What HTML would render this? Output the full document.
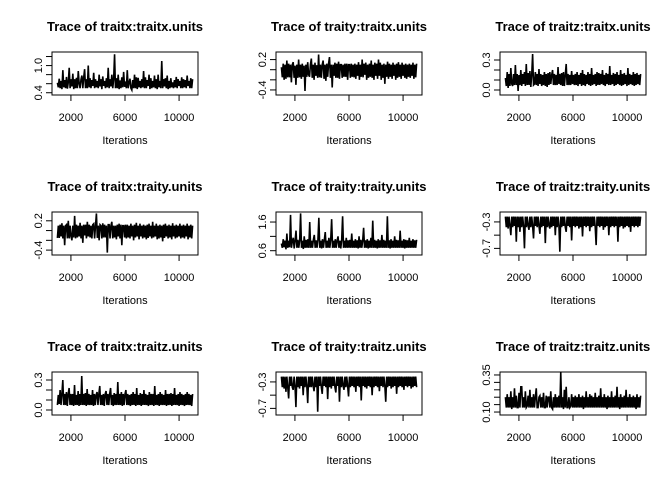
<!DOCTYPE html>
<html><head><meta charset="utf-8"><style>
html,body{margin:0;padding:0;background:#fff;}
svg{display:block;font-family:"Liberation Sans",Arial,sans-serif;}
</style></head><body>
<svg id="chart" width="672" height="480" viewBox="0 0 672 480" xmlns="http://www.w3.org/2000/svg"></svg>
<script>
const titles = ["Trace of traitx:traitx.units","Trace of traity:traitx.units","Trace of traitz:traitx.units",
"Trace of traitx:traity.units","Trace of traity:traity.units","Trace of traitz:traity.units",
"Trace of traitx:traitz.units","Trace of traity:traitz.units","Trace of traitz:traitz.units"];
const xTicks = [2000, 6000, 10000];
const iterStart = 1000, iterEnd = 11000;
const yDomains = [[0.35,1.30],[-0.5,0.35],[-0.05,0.38],[-0.5,0.38],[0.45,1.95],[-0.8,-0.15],[-0.05,0.38],[-0.8,-0.15],[0.08,0.37]];
const yTicks = [[0.4,0.6,0.8,1.0,1.2],[-0.4,-0.2,0,0.2],[0,0.1,0.2,0.3],[-0.4,-0.2,0,0.2],[0.6,1.1,1.6],[-0.7,-0.5,-0.3],[0,0.1,0.2,0.3],[-0.7,-0.5,-0.3],[0.1,0.15,0.2,0.25,0.3,0.35]];
const yLabels = [[["0.4",0.4],["1.0",1.0]],[["-0.4",-0.4],["0.2",0.2]],[["0.0",0],["0.3",0.3]],[["-0.4",-0.4],["0.2",0.2]],[["0.6",0.6],["1.6",1.6]],[["-0.7",-0.7],["-0.3",-0.3]],[["0.0",0],["0.3",0.3]],[["-0.7",-0.7],["-0.3",-0.3]],[["0.10",0.1],["0.35",0.35]]];
const s1 = [.62,.52,.71,.5,.66,.48,.9,.52,.68,.5,.75,.49,.63,.95,.5,.7,.54,.82,.48,.7,.5,.73,.5,.88,.6,.5,.69,.78,.5,.74,.92,.5,.7,.5,1.0,.52,.72,.5,.68,.55,.84,.5,.7,.52,.66,.5,.8,.54,.7,.48,.76,.55,.66,.5,.72,.52,.95,.5,.7,.54,.8,.5,.7,1.25,.5,.72,.5,.8,.48,.67,.5,.74,.52,.86,.53,.65,.5,.9,.5,.62,.71,.5,.46,.68,.5,.8,.5,.74,.48,.73,.52,.66,.5,.7,.52,.88,.5,.74,.5,.68,.55,.8,.48,.72,.5,.66,.52,.78,.5,.7,.48,.8,.52,.66,.5,1.1,.5,.7,.54,.72,.5,.78,.48,.66,.5,.72,.52,.63,.5,.68,.52,.75,.5,.7,.55,.66,.5,.74,.5,.7,.52,.68,.5,.78,.55,.66,.5,.72,.5,.7];
const s2 = [0.05,-.15,.12,-.2,.1,-.18,.18,-.15,.12,-.15,.1,-.25,.1,.15,-.16,.08,-.3,.1,-.16,.2,-.15,.1,-.18,.12,-.14,.08,-.42,.1,-.14,.15,-.1,-.14,.1,.22,-.16,.1,-.2,.14,-.12,.09,-.16,.3,-.15,.1,-.16,.1,.18,-.18,.1,-.22,.12,-.14,.12,.25,-.16,.1,-.35,.1,-.12,.14,-.16,.12,-.16,.16,-.18,.1,.1,-.16,.1,-.14,.12,-.14,.12,-.2,.1,.1,-.16,.12,-.14,.1,-.15,.12,-.18,.1,-.12,.15,-.2,.1,-.14,.2,-.15,.12,-.1,.14,-.2,.1,-.16,.12,-.14,.18,-.16,.1,-.2,.14,-.12,.12,-.18,.2,-.12,.14,-.2,.1,-.16,.12,-.28,.1,-.14,.16,-.18,.12,-.14,.1,-.18,.14,-.12,.1,-.2,.12,-.16,.15,-.14,.1,-.18,.14,-.12,.1,-.16,.12,-.18,.1,-.14,.12,-.16,.1,-.12,.14,-.18,.1,-.15,.12];
const s3 = [.12,.04,.18,.02,.16,.04,.22,.06,.04,.16,.05,.25,.05,.16,-.01,.15,.05,.2,.04,.16,.06,.18,.04,.26,.05,.17,.05,.19,.03,.15,.36,.05,.06,.18,.05,.16,.04,.21,.06,.16,.04,.15,.05,.18,.04,.16,.03,.17,.05,.18,.06,.15,.2,.05,.16,.05,.15,.05,.23,.06,.16,.05,.17,.04,.18,.04,.15,.26,.05,.16,.05,.15,.05,.19,.06,.15,.05,.16,.05,.18,.04,.15,.06,.17,.04,.2,.05,.16,.04,.15,.06,.18,.05,.16,.04,.22,.05,.15,.06,.16,.04,.18,.05,.17,.05,.16,.06,.2,.05,.15,.04,.17,.06,.16,.05,.24,.05,.15,.06,.17,.04,.16,.05,.18,.06,.15,.05,.2,.04,.16,.05,.17,.06,.15,.04,.22,.05,.16,.06,.15,.05,.18,.04,.16,.05,.17,.06,.15,.05,.16];
const s4 = [-.15,.1,-.15,.12,-.12,.15,-.16,.1,-.3,.1,.12,-.16,.2,-.16,.1,-.12,-.2,.1,-.14,.3,-.16,.12,-.14,.1,-.12,.16,-.16,.1,-.25,.12,-.1,.12,-.16,.18,-.12,.12,-.14,.1,-.16,.12,.14,-.16,.1,.35,-.15,.1,-.2,.12,.1,-.16,.15,-.14,.12,-.14,.1,-.45,.12,.12,-.16,.1,.18,-.16,.1,-.14,.1,-.18,.12,-.12,.14,-.16,.12,-.3,.1,.1,-.14,.12,-.16,.12,-.14,.1,-.16,.14,-.12,.1,-.2,.12,-.14,.16,-.12,.1,-.18,.14,-.12,.1,-.16,.12,-.14,.1,-.18,.12,-.15,.14,-.12,.1,-.16,.18,-.14,.1,-.12,.14,-.18,.1,-.16,.12,-.14,.1,-.22,.12,-.15,.14,-.12,.1,-.16,.12,-.14,.1,-.18,.15,-.12,.1,-.16,.12,-.14,.1,-.12,.14,-.16,.1,-.14,.12,-.16,.1,-.12,.14,-.18,.1,-.14,.12,-.16,.1];
const s5 = [.85,.7,1.0,.72,.95,.65,1.2,.7,.95,.72,1.85,.7,.95,1.05,.68,.95,1.3,.7,.98,.7,.95,1.9,.7,.95,.66,1.1,.7,.98,.7,1.0,.7,1.6,.7,.95,.7,.98,1.15,.7,.96,.7,.98,1.75,.7,.95,.68,1.0,.7,.98,1.25,.7,.95,.7,1.05,.7,.98,1.7,.7,.95,.7,1.0,.7,.96,1.1,.7,.95,.68,.98,1.8,.7,.95,.7,1.05,.7,.96,.7,.98,.7,1.2,.7,.95,.7,1.0,.7,.96,.68,1.1,.7,.98,.7,.95,1.4,.7,.96,.7,1.0,.68,.95,.7,1.05,.7,1.65,.7,.98,.7,.95,.68,1.0,.7,.96,.7,1.15,.7,.98,.7,.95,.7,1.8,.7,.96,.68,1.0,.7,.95,.7,1.1,.7,.98,.7,.96,.7,1.3,.7,.95,.7,1.0,.68,.98,.7,.96,.7,1.05,.7,.95,.7,1.0,.7,.96,.7,.98];
const s6 = [-.22,-.38,-.22,-.4,-.22,-.36,-.5,-.22,-.38,-.22,-.36,-.22,-.6,-.22,-.38,-.22,-.45,-.22,-.38,-.22,-.36,-.7,-.22,-.38,-.22,-.36,-.42,-.22,-.38,-.22,-.36,-.55,-.22,-.36,-.22,-.38,-.22,-.36,-.48,-.22,-.38,-.22,-.36,-.22,-.62,-.22,-.38,-.22,-.36,-.4,-.22,-.38,-.22,-.36,-.22,-.5,-.22,-.38,-.22,-.36,-.75,-.22,-.38,-.22,-.36,-.22,-.38,-.45,-.22,-.36,-.22,-.38,-.22,-.58,-.22,-.36,-.22,-.38,-.22,-.36,-.22,-.4,-.22,-.38,-.22,-.52,-.22,-.36,-.22,-.38,-.22,-.36,-.22,-.44,-.22,-.38,-.22,-.36,-.22,-.38,-.65,-.22,-.36,-.22,-.38,-.22,-.36,-.22,-.42,-.22,-.38,-.22,-.36,-.22,-.5,-.22,-.38,-.22,-.36,-.22,-.38,-.22,-.36,-.22,-.6,-.22,-.38,-.22,-.36,-.22,-.4,-.22,-.38,-.22,-.36,-.22,-.38,-.22,-.45,-.22,-.36,-.22,-.38,-.22,-.36,-.22,-.38,-.22,-.36,-.22];
const s7 = [.05,.15,.06,.2,.05,.16,.3,.05,.16,.05,.18,.04,.16,.22,.05,.16,.05,.16,.04,.25,.05,.15,.05,.19,.04,.16,.05,.34,.05,.16,.05,.17,.04,.21,.05,.16,.05,.15,.05,.2,.04,.16,.05,.15,.18,.05,.16,.24,.05,.15,.05,.16,.04,.16,.19,.05,.16,.05,.16,.22,.05,.15,.04,.17,.05,.16,.05,.28,.05,.16,.05,.18,.04,.16,.05,.16,.2,.05,.16,.05,.15,.04,.16,.05,.18,.05,.16,.04,.22,.05,.15,.05,.17,.04,.16,.05,.2,.05,.16,.05,.15,.04,.18,.05,.16,.05,.16,.04,.24,.05,.15,.05,.16,.04,.18,.05,.16,.05,.15,.05,.2,.04,.16,.05,.16,.05,.17,.04,.16,.05,.22,.05,.15,.05,.16,.04,.18,.05,.16,.05,.15,.04,.16,.05,.18,.05,.16,.05,.15,.04,.16];
const s8 = [-.22,-.38,-.22,-.4,-.22,-.45,-.22,-.38,-.55,-.22,-.36,-.22,-.38,-.42,-.22,-.36,-.68,-.22,-.38,-.22,-.4,-.22,-.36,-.22,-.5,-.22,-.38,-.22,-.36,-.62,-.22,-.38,-.22,-.38,-.22,-.36,-.44,-.22,-.38,-.22,-.75,-.22,-.36,-.22,-.38,-.48,-.22,-.36,-.22,-.38,-.22,-.56,-.22,-.38,-.22,-.4,-.22,-.36,-.22,-.38,-.46,-.22,-.36,-.22,-.6,-.22,-.38,-.22,-.36,-.42,-.22,-.38,-.22,-.36,-.52,-.22,-.38,-.22,-.36,-.22,-.38,-.22,-.45,-.22,-.36,-.22,-.38,-.22,-.58,-.22,-.36,-.22,-.38,-.22,-.4,-.22,-.36,-.22,-.38,-.22,-.5,-.22,-.38,-.22,-.36,-.22,-.38,-.22,-.44,-.22,-.36,-.22,-.38,-.22,-.36,-.6,-.22,-.38,-.22,-.36,-.22,-.4,-.22,-.38,-.22,-.36,-.22,-.48,-.22,-.38,-.22,-.36,-.22,-.38,-.22,-.42,-.22,-.36,-.22,-.38,-.22,-.36,-.22,-.4,-.22,-.38,-.22,-.36,-.22,-.38];
const s9 = [.2,.13,.22,.13,.2,.13,.24,.12,.2,.13,.26,.13,.21,.13,.13,.23,.13,.27,.27,.13,.2,.13,.24,.13,.14,.21,.13,.25,.13,.2,.13,.22,.13,.2,.26,.13,.13,.2,.21,.13,.2,.13,.23,.13,.13,.21,.13,.2,.2,.13,.24,.13,.12,.2,.13,.22,.13,.2,.13,.21,.13,.37,.13,.2,.12,.25,.13,.27,.13,.13,.2,.13,.14,.22,.13,.2,.13,.21,.13,.2,.13,.22,.13,.2,.13,.21,.12,.2,.13,.24,.13,.2,.13,.22,.13,.21,.13,.2,.13,.23,.13,.2,.13,.21,.13,.26,.13,.2,.13,.22,.13,.2,.12,.21,.13,.2,.13,.24,.13,.2,.13,.21,.13,.27,.13,.2,.12,.22,.13,.2,.13,.21,.13,.25,.13,.2,.13,.22,.13,.2,.13,.21,.13,.2,.12,.22,.13,.2,.13,.21];
const series = [s1,s2,s3,s4,s5,s6,s7,s8,s9];

const NS = "http://www.w3.org/2000/svg";
const svg = document.getElementById("chart");
function mk(tag, attrs, parent){ const e=document.createElementNS(NS,tag); for(const k in attrs) e.setAttribute(k,attrs[k]); parent.appendChild(e); return e; }

for(let p=0;p<9;p++){
  const col=p%3,row=Math.floor(p/3);
  const ox=col*224, oy=row*160;
  const bx=ox+52, bw=146, by=oy+52, bh=43;
  const xScale=v=>bx+bw*0.037+(v-iterStart)/(iterEnd-iterStart)*bw*0.926;
  const [d0,d1]=yDomains[p];
  const yScale=v=>by+bh-(v-d0)/(d1-d0)*bh;
  const g=mk("g",{},svg);
  
  
  const t=mk("text",{x:bx+bw/2,y:oy+31,"text-anchor":"middle","font-size":"13","font-weight":"bold",fill:"#000"},g);
  t.textContent=titles[p];
  
  
  const data=series[p], n=data.length;
  let d="";
  data.forEach((v,i)=>{const it=iterStart+i*(iterEnd-iterStart)/(n-1); d+=(i?"L":"M")+xScale(it).toFixed(2)+","+yScale(v).toFixed(2);});
  const path=mk("path",{d:d,fill:"none",stroke:"#000","stroke-width":"1.6","stroke-linejoin":"miter"},g);
  
  
  const box=mk("rect",{x:bx,y:by,width:bw,height:bh,fill:"none",stroke:"#000","stroke-width":"1"},g);
  
  
  const xa=mk("g",{},g);
  
  
  mk("line",{x1:xScale(xTicks[0]),x2:xScale(xTicks[xTicks.length-1]),y1:by+bh,y2:by+bh,stroke:"#000"},xa);
  xTicks.forEach(v=>{
    const x=xScale(v);
    mk("line",{x1:x,x2:x,y1:by+bh,y2:by+bh+6,stroke:"#000"},xa);
    const tl=mk("text",{x:x,y:oy+121,"text-anchor":"middle","font-size":"11",fill:"#000"},xa);
    tl.textContent=v;
    
    
  });
  const xt=mk("text",{x:bx+bw/2,y:oy+144,"text-anchor":"middle","font-size":"11",fill:"#000"},g);
  xt.textContent="Iterations";
  
  
  const ya=mk("g",{},g);
  
  
  const yt=yTicks[p];
  mk("line",{x1:bx,x2:bx,y1:yScale(yt[0]),y2:yScale(yt[yt.length-1]),stroke:"#000"},ya);
  yt.forEach(v=>{const y=yScale(v); mk("line",{x1:bx-6,x2:bx,y1:y,y2:y,stroke:"#000"},ya);});
  yLabels[p].forEach(([lab,v])=>{
    const y=yScale(v);
    const tl=mk("text",{x:0,y:0,"text-anchor":"middle","font-size":"11",fill:"#000",transform:`translate(${bx-10},${y}) rotate(-90)`},ya);
    tl.textContent=lab;
    
    
  });
}
</script>
</body></html>
